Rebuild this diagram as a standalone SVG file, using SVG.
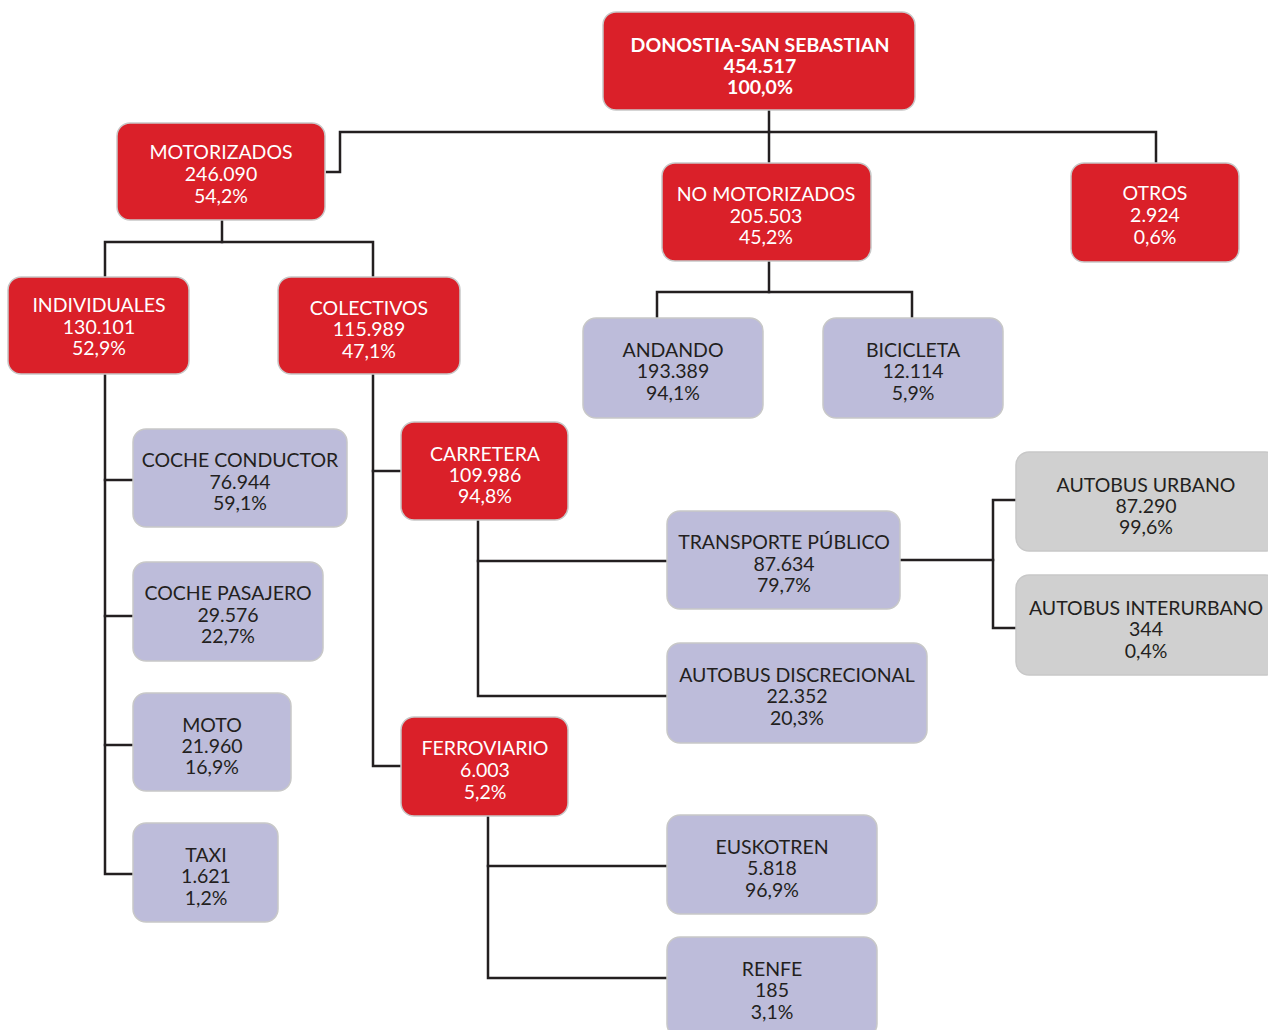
<svg xmlns="http://www.w3.org/2000/svg" width="1268" height="1030" viewBox="0 0 1268 1030">
  <style>
    .box { stroke: #c8c8c8; stroke-width: 1.5; }
    .red { fill: #da2029; }
    .lav { fill: #bdbcda; }
    .gray { fill: #d0d0d0; }
    .t { font-family: Lato, "Liberation Sans", sans-serif; font-size: 19.5px; text-anchor: middle; }
    .tw { fill: #ffffff; }
    .td { fill: #231f20; }
    .bold { font-weight: bold; }
    .links path { fill: none; stroke: #231f20; stroke-width: 2.5; stroke-linecap: square; }
  </style>

  <!-- tree connectors -->
  <g id="connectors" class="links">
    <path d="M769,110 V132"/>
    <path d="M327,172 H340 V132 H1156 V163"/>
    <path d="M769,132 V163"/>
    <path d="M222,220 V242"/>
    <path d="M105,277 V242 H373 V277"/>
    <path d="M105,374 V874 H133"/>
    <path d="M105,480 H133"/>
    <path d="M105,616 H133"/>
    <path d="M105,745 H133"/>
    <path d="M373,374 V766 H401"/>
    <path d="M373,471 H401"/>
    <path d="M478,520 V696 H667"/>
    <path d="M478,561 H667"/>
    <path d="M900,560 H993"/>
    <path d="M1016,500 H993 V628 H1016"/>
    <path d="M488,816 V978 H667"/>
    <path d="M488,866 H667"/>
    <path d="M769,261 V292"/>
    <path d="M657,318 V292 H912 V318"/>
  </g>

  <g id="root">
    <rect class="box red" x="603" y="12" width="312" height="98" rx="13"/>
    <text class="t tw bold" x="760" y="52">DONOSTIA-SAN SEBASTIAN</text>
    <text class="t tw bold" x="760" y="73">454.517</text>
    <text class="t tw bold" x="760" y="94">100,0%</text>
  </g>

  <g id="motorizados">
    <rect class="box red" x="117" y="123" width="208" height="97" rx="13"/>
    <text class="t tw" x="221" y="159">MOTORIZADOS</text>
    <text class="t tw" x="221" y="181">246.090</text>
    <text class="t tw" x="221" y="203">54,2%</text>
  </g>

  <g id="no-motorizados">
    <rect class="box red" x="662" y="163" width="209" height="98" rx="13"/>
    <text class="t tw" x="766" y="201">NO MOTORIZADOS</text>
    <text class="t tw" x="766" y="223">205.503</text>
    <text class="t tw" x="766" y="244">45,2%</text>
  </g>

  <g id="otros">
    <rect class="box red" x="1071" y="163" width="168" height="99" rx="13"/>
    <text class="t tw" x="1155" y="200">OTROS</text>
    <text class="t tw" x="1155" y="222">2.924</text>
    <text class="t tw" x="1155" y="244">0,6%</text>
  </g>

  <g id="individuales">
    <rect class="box red" x="8" y="277" width="181" height="97" rx="13"/>
    <text class="t tw" x="99" y="312">INDIVIDUALES</text>
    <text class="t tw" x="99" y="334">130.101</text>
    <text class="t tw" x="99" y="355">52,9%</text>
  </g>

  <g id="colectivos">
    <rect class="box red" x="278" y="277" width="182" height="97" rx="13"/>
    <text class="t tw" x="369" y="315">COLECTIVOS</text>
    <text class="t tw" x="369" y="336">115.989</text>
    <text class="t tw" x="369" y="358">47,1%</text>
  </g>

  <g id="andando">
    <rect class="box lav" x="583" y="318" width="180" height="100" rx="13"/>
    <text class="t td" x="673" y="357">ANDANDO</text>
    <text class="t td" x="673" y="378">193.389</text>
    <text class="t td" x="673" y="400">94,1%</text>
  </g>

  <g id="bicicleta">
    <rect class="box lav" x="823" y="318" width="180" height="100" rx="13"/>
    <text class="t td" x="913" y="357">BICICLETA</text>
    <text class="t td" x="913" y="378">12.114</text>
    <text class="t td" x="913" y="400">5,9%</text>
  </g>

  <g id="coche-conductor">
    <rect class="box lav" x="133" y="429" width="214" height="98" rx="13"/>
    <text class="t td" x="240" y="467">COCHE CONDUCTOR</text>
    <text class="t td" x="240" y="489">76.944</text>
    <text class="t td" x="240" y="510">59,1%</text>
  </g>

  <g id="coche-pasajero">
    <rect class="box lav" x="133" y="562" width="190" height="99" rx="13"/>
    <text class="t td" x="228" y="600">COCHE PASAJERO</text>
    <text class="t td" x="228" y="622">29.576</text>
    <text class="t td" x="228" y="643">22,7%</text>
  </g>

  <g id="moto">
    <rect class="box lav" x="133" y="693" width="158" height="98" rx="13"/>
    <text class="t td" x="212" y="732">MOTO</text>
    <text class="t td" x="212" y="753">21.960</text>
    <text class="t td" x="212" y="774">16,9%</text>
  </g>

  <g id="taxi">
    <rect class="box lav" x="133" y="823" width="145" height="99" rx="13"/>
    <text class="t td" x="206" y="862">TAXI</text>
    <text class="t td" x="206" y="883">1.621</text>
    <text class="t td" x="206" y="905">1,2%</text>
  </g>

  <g id="carretera">
    <rect class="box red" x="401" y="422" width="167" height="98" rx="13"/>
    <text class="t tw" x="485" y="461">CARRETERA</text>
    <text class="t tw" x="485" y="482">109.986</text>
    <text class="t tw" x="485" y="503">94,8%</text>
  </g>

  <g id="ferroviario">
    <rect class="box red" x="401" y="717" width="167" height="99" rx="13"/>
    <text class="t tw" x="485" y="755">FERROVIARIO</text>
    <text class="t tw" x="485" y="777">6.003</text>
    <text class="t tw" x="485" y="799">5,2%</text>
  </g>

  <g id="transporte-publico">
    <rect class="box lav" x="667" y="511" width="233" height="98" rx="13"/>
    <text class="t td" x="784" y="549">TRANSPORTE PÚBLICO</text>
    <text class="t td" x="784" y="571">87.634</text>
    <text class="t td" x="784" y="592">79,7%</text>
  </g>

  <g id="autobus-discrecional">
    <rect class="box lav" x="667" y="643" width="260" height="100" rx="13"/>
    <text class="t td" x="797" y="682">AUTOBUS DISCRECIONAL</text>
    <text class="t td" x="797" y="703">22.352</text>
    <text class="t td" x="797" y="725">20,3%</text>
  </g>

  <g id="autobus-urbano">
    <rect class="box gray" x="1016" y="452" width="262" height="99" rx="13"/>
    <text class="t td" x="1146" y="492">AUTOBUS URBANO</text>
    <text class="t td" x="1146" y="513">87.290</text>
    <text class="t td" x="1146" y="534">99,6%</text>
  </g>

  <g id="autobus-interurbano">
    <rect class="box gray" x="1016" y="575" width="262" height="100" rx="13"/>
    <text class="t td" x="1146" y="615">AUTOBUS INTERURBANO</text>
    <text class="t td" x="1146" y="636">344</text>
    <text class="t td" x="1146" y="658">0,4%</text>
  </g>

  <g id="euskotren">
    <rect class="box lav" x="667" y="815" width="210" height="99" rx="13"/>
    <text class="t td" x="772" y="854">EUSKOTREN</text>
    <text class="t td" x="772" y="875">5.818</text>
    <text class="t td" x="772" y="897">96,9%</text>
  </g>

  <g id="renfe">
    <rect class="box lav" x="667" y="937" width="210" height="100" rx="13"/>
    <text class="t td" x="772" y="976">RENFE</text>
    <text class="t td" x="772" y="997">185</text>
    <text class="t td" x="772" y="1019">3,1%</text>
  </g>
</svg>
